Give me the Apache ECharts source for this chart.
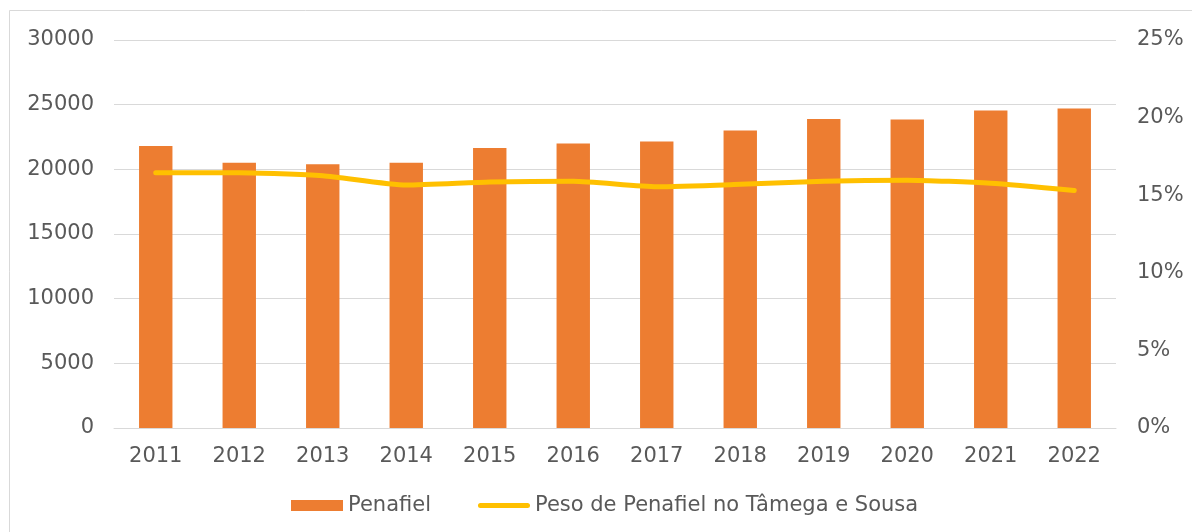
<!DOCTYPE html>
<html>
<head>
<meta charset="utf-8">
<script src="https://cdn.jsdelivr.net/npm/echarts@6/dist/echarts.min.js"></script>
<style>
html,body{margin:0;padding:0;background:#fff;}
#chart{width:1192px;height:532px;}
</style>
</head>
<body>
<div id="chart"></div>
<script>
const years = ['2011','2012','2013','2014','2015','2016','2017','2018','2019','2020','2021','2022'];
const penafiel = [21800, 20500, 20400, 20500, 21650, 22000, 22150, 23000, 23900, 23850, 24550, 24700];
const pesoPct = [16.45, 16.45, 16.25, 15.65, 15.85, 15.9, 15.55, 15.7, 15.9, 15.97, 15.77, 15.3];
const leftTicks = {min: 0, max: 30000, interval: 5000};
const rightTicks = {min: 0, max: 25, interval: 5};
const seriesNames = ['Penafiel', 'Peso de Penafiel no Tâmega e Sousa'];

const txt = '#595959';
const font = '"DejaVu Sans", Verdana, sans-serif';
const fs = 21;
const lineIcon = 'path://M0,0 M52,11 M2.5,3 L49.5,3 A2.5,2.5 0 0 1 49.5,8 L2.5,8 A2.5,2.5 0 0 1 2.5,3 Z';
const chart = echarts.init(document.getElementById('chart'), null, {renderer: 'canvas'});
chart.setOption({
  animation: false,
  backgroundColor: '#ffffff',
  textStyle: {fontFamily: font},
  graphic: [{
    type: 'rect', silent: true,
    shape: {x: 9.5, y: 10.5, width: 1300, height: 700},
    style: {fill: 'none', stroke: '#d9d9d9', lineWidth: 1}
  }],
  grid: {left: 114, right: 76, top: 40, bottom: 104, containLabel: false},
  legend: {
    left: 291, top: 495, padding: 0,
    itemGap: 47, itemWidth: 52, itemHeight: 11,
    textStyle: {color: txt, fontSize: fs, fontFamily: font},
    data: [
      {name: seriesNames[0], icon: 'rect'},
      {name: seriesNames[1], icon: lineIcon, itemStyle: {color: '#FFC000'}}
    ]
  },
  xAxis: {
    type: 'category', data: years,
    axisLine: {show: true, lineStyle: {color: '#d9d9d9', width: 1}},
    axisTick: {show: false},
    axisLabel: {color: txt, fontSize: fs, fontFamily: font, margin: 18}
  },
  yAxis: [{
    type: 'value', min: leftTicks.min, max: leftTicks.max, interval: leftTicks.interval,
    axisLine: {show: false}, axisTick: {show: false},
    splitLine: {lineStyle: {color: '#d9d9d9', width: 1}},
    axisLabel: {color: txt, fontSize: fs, fontFamily: font, margin: 20, formatter: function (v) { return String(v); }}
  }, {
    type: 'value', min: rightTicks.min, max: rightTicks.max, interval: rightTicks.interval,
    position: 'right',
    axisLine: {show: false}, axisTick: {show: false},
    splitLine: {show: false},
    axisLabel: {color: txt, fontSize: fs, fontFamily: font, margin: 21, formatter: '{value}%'}
  }],
  series: [{
    name: seriesNames[0], type: 'bar', data: penafiel,
    yAxisIndex: 0, barCategoryGap: '60%',
    itemStyle: {color: '#ED7D31'}
  }, {
    name: seriesNames[1], type: 'line', data: pesoPct,
    yAxisIndex: 1, smooth: 0.2, symbol: 'none', showSymbol: false,
    lineStyle: {color: '#FFC000', width: 5, cap: 'round', join: 'round'},
    itemStyle: {color: '#FFC000'}
  }]
});
</script>
</body>
</html>
